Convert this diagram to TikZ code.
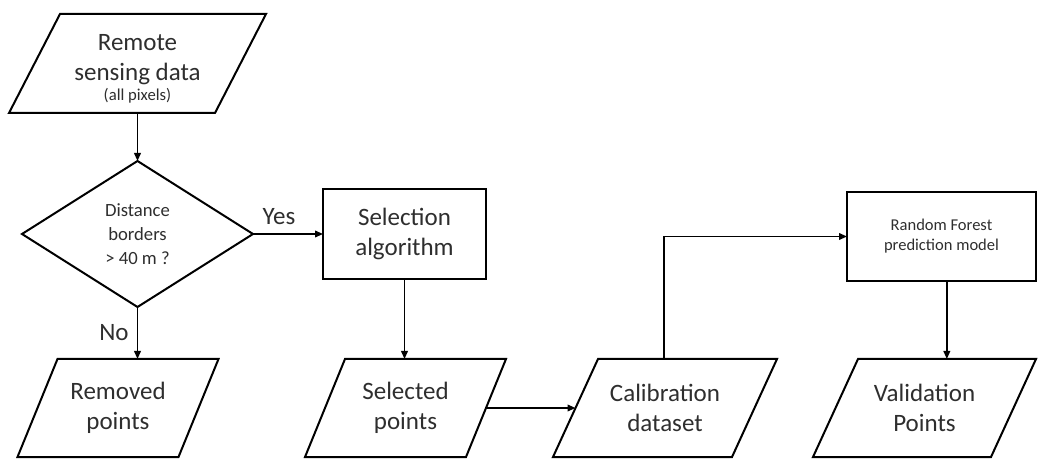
\documentclass[tikz,border=0pt]{standalone}
\usepackage{fontspec}
\setmainfont{Carlito}
\usetikzlibrary{shapes.geometric,arrows.meta}
\newcommand\paraoutline[2]{%
  \draw[outline] ([xshift=#2*0.75pt]#1.north west) -- ([xshift=#2*0.75pt]#1.north east)
    -- ([xshift=-#2*0.75pt]#1.south east) -- ([xshift=-#2*0.75pt]#1.south west) -- cycle;}
\begin{document}
\begin{tikzpicture}[x=0.75pt,y=-0.75pt,
  outline/.style={draw=black, line width=1.5pt},
  txt/.style={align=center, text=black!82, inner sep=0pt, outer sep=0pt,
    font=\fontsize{18.75}{22.5}\selectfont},
  box/.style={txt, outline, rectangle},
  para/.style={txt, rectangle, minimum height=98*0.75pt},
  conn/.style={line width=1.2pt, -{Triangle[length=6pt,width=5pt]}},
  lbl/.style={text=black!82, inner sep=0pt, font=\fontsize{18.75}{22.5}\selectfont}
]
\useasboundingbox (0,0) rectangle (1038,459);

\node[para, minimum width=206*0.75pt, minimum height=99*0.75pt] (remote) at (137.5,63.5)
  {\rule{0pt}{20pt}Remote\\sensing data\\[-7pt]{\fontsize{12.5}{15}\selectfont (all pixels)}};
\paraoutline{remote}{25.5}

\node[txt, outline, diamond, minimum width=231*0.75pt, minimum height=146*0.75pt,
  font=\fontsize{14}{17.8}\selectfont] (dec) at (137.5,234) {Distance\\borders\\> 40 m ?};

\node[box, minimum width=163*0.75pt, minimum height=90*0.75pt] (sel) at (404.5,234)
  {Selection\\algorithm};

\node[box, minimum width=189*0.75pt, minimum height=89*0.75pt,
  font=\fontsize{12.4}{15}\selectfont] (rf) at (941.5,236.5) {Random Forest\\prediction model};

\node[para, minimum width=161*0.75pt] (removed) at (118,408) {Removed\\points};
\paraoutline{removed}{20}
\node[para, minimum width=161*0.75pt] (selected) at (405.5,408) {Selected\\points};
\paraoutline{selected}{20}
\node[para, minimum width=179*0.75pt] (calib) at (665,408) {Calibration\\dataset};
\paraoutline{calib}{22.5}
\node[para, minimum width=178*0.75pt] (valid) at (924.5,408) {Validation\\Points};
\paraoutline{valid}{22.5}

\node[lbl] (yes) at (279,217) {Yes};
\node[lbl] (no) at (114,333) {No};

\draw[conn] (remote.south) -- (dec.north);
\draw[conn] (dec.east) -- (sel.west);
\draw[conn] (dec.south) -- (dec.south |- removed.north);
\draw[conn] (sel.south) -- (sel.south |- selected.north);
\draw[conn] (selected.east) -- (calib.west);
\draw[conn] ([xshift=-0.75pt]calib.north) |- (rf.west);
\draw[conn] ([xshift=4pt]rf.south) -- ([xshift=4pt]rf.south |- valid.north);
\end{tikzpicture}
\end{document}
